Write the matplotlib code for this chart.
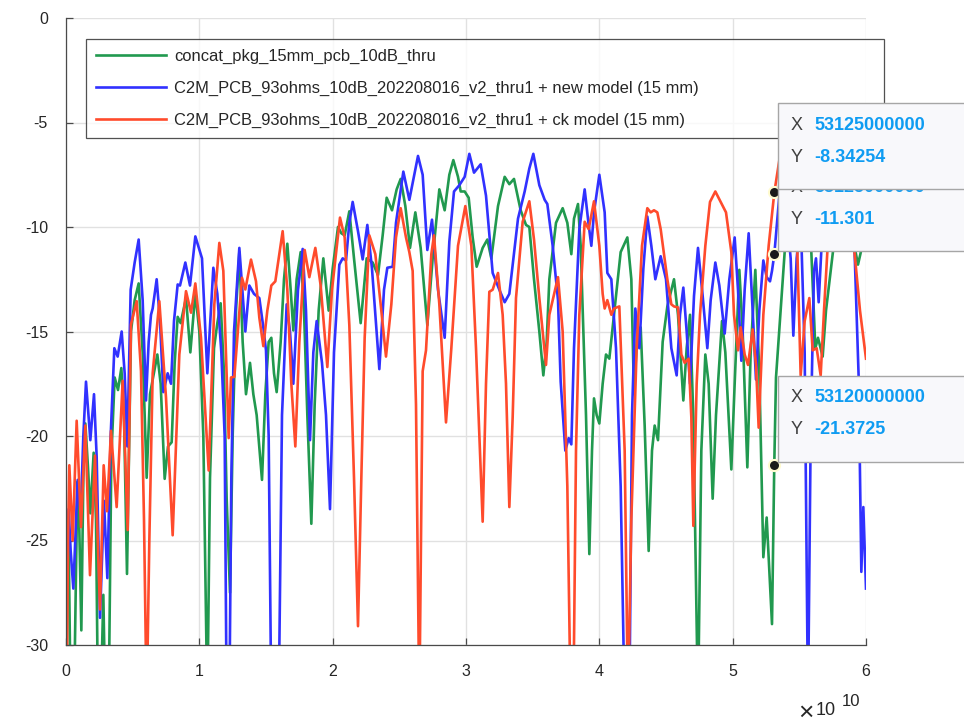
import numpy as np
import matplotlib
matplotlib.use("Agg")
import matplotlib.pyplot as plt
from matplotlib.patches import Rectangle
from matplotlib.ticker import FuncFormatter

plt.rcParams['font.family'] = ['Liberation Sans', 'DejaVu Sans']
plt.rcParams['axes.unicode_minus'] = False

# ---------------- data (frequency in GHz, magnitude in dB) ----------------
green_label = "concat_pkg_15mm_pcb_10dB_thru"
blue_label = "C2M_PCB_93ohms_10dB_202208016_v2_thru1 + new model (15 mm)"
red_label = "C2M_PCB_93ohms_10dB_202208016_v2_thru1 + ck model (15 mm)"

green_f = [0.05, 0.2, 0.35, 0.6, 0.85, 1.0, 1.15, 1.3, 1.45, 1.65, 1.825, 2.075, 2.25, 2.4, 2.6, 2.8, 2.95,
           3.2, 3.4, 3.65, 3.9, 4.15, 4.35, 4.575, 4.875, 5.15, 5.45, 5.75, 6.05, 6.3, 6.85, 7.1, 7.4, 7.65,
           7.925, 8.15, 8.375, 8.6, 9.0, 9.325, 9.7, 10.0, 10.3, 10.6, 10.8, 11.1, 11.35, 11.6, 11.85, 12.05,
           12.3, 12.5, 12.75, 13.0, 13.25, 13.5, 13.8, 14.05, 14.3, 14.7, 14.95, 15.2, 15.4, 15.6, 15.8, 16.1,
           16.35, 16.6, 16.85, 17.05, 17.3, 17.6, 17.85, 18.1, 18.4, 18.65, 18.95, 19.3, 19.7, 20.0, 20.4,
           20.65, 20.9, 21.25, 21.6, 22.1, 22.55, 23.0, 23.4, 23.75, 24.05, 24.45, 24.8, 25.1, 25.45, 25.8,
           26.2, 26.6, 27.1, 27.5, 28.0, 28.4, 28.75, 29.05, 29.4, 29.6, 29.9, 30.2, 30.5, 30.8, 31.25, 31.6,
           31.9, 32.4, 32.9, 33.25, 33.6, 34.1, 34.5, 34.75, 35.1, 35.5, 35.8, 36.05, 36.25, 36.75, 37.25,
           37.6, 37.9, 38.1, 38.4, 38.6, 39.0, 39.25, 39.45, 39.6, 39.8, 40.0, 40.25, 40.5, 40.75, 41.1, 41.6,
           42.1, 42.4, 42.6, 42.85, 43.1, 43.4, 43.7, 43.95, 44.15, 44.4, 44.75, 45.1, 45.6, 45.9, 46.3,
           46.55, 46.8, 47.05, 47.4, 47.65, 47.95, 48.2, 48.5, 48.75, 49.2, 49.45, 49.9, 50.15, 50.5, 50.75,
           51.1, 51.35, 51.7, 52.0, 52.3, 52.55, 52.95, 53.12, 53.25, 53.6, 53.9, 54.3, 54.9, 55.5, 55.9,
           56.2, 56.4, 56.75, 57.0, 57.5, 58.0, 58.7, 59.1, 59.4, 60.0]
green_db = [-26.0, -25.0, -33.0, -33.0, -22.2, -24.5, -29.3, -22.0, -19.4, -21.5, -23.7, -20.8, -24.0, -33.0,
            -33.0, -27.6, -33.0, -33.0, -21.0, -17.2, -17.8, -16.75, -19.0, -26.6, -15.0, -13.5, -12.7, -16.0,
            -22.0, -18.0, -16.1, -17.5, -22.05, -20.5, -20.3, -16.5, -14.3, -14.6, -13.4, -16.0, -13.15, -15.0,
            -20.0, -33.0, -22.0, -15.8, -14.6, -13.65, -17.0, -23.0, -27.5, -20.0, -14.0, -11.2, -15.5, -18.0,
            -16.5, -18.0, -19.0, -22.1, -18.0, -15.5, -15.3, -17.0, -17.9, -15.5, -12.5, -10.8, -13.0, -14.95,
            -12.5, -11.2, -14.0, -19.0, -24.2, -18.5, -14.0, -11.5, -14.0, -12.0, -10.0, -10.3, -10.4, -9.25,
            -11.5, -14.6, -11.5, -11.7, -12.3, -10.4, -8.6, -9.2, -8.2, -7.7, -9.0, -11.0, -9.3, -11.0, -14.7,
            -11.5, -8.2, -9.2, -7.5, -6.8, -7.6, -8.3, -8.3, -8.6, -10.5, -11.9, -11.0, -10.6, -11.5, -9.0,
            -7.6, -7.95, -7.7, -9.2, -9.9, -10.0, -12.5, -15.0, -17.1, -15.5, -12.5, -9.8, -9.1, -9.8, -11.3,
            -9.6, -8.9, -10.9, -19.0, -25.65, -20.7, -18.2, -19.0, -19.4, -17.5, -16.1, -16.3, -14.2, -11.2,
            -10.5, -12.5, -18.0, -15.0, -14.8, -19.5, -25.5, -20.7, -19.5, -20.2, -15.5, -13.8, -12.5, -14.2,
            -18.3, -15.8, -14.2, -19.1, -33.0, -20.7, -16.1, -17.5, -23.0, -19.0, -14.5, -16.0, -21.6, -17.5,
            -12.05, -15.0, -21.5, -16.0, -12.05, -17.0, -25.8, -23.9, -29.0, -21.3725, -17.2, -14.0, -11.2,
            -8.5, -7.5, -9.0, -11.2, -15.8, -15.3, -16.2, -14.0, -11.3, -8.5, -9.0, -10.8, -11.8, -10.1]

blue_f = [0.05, 0.2, 0.35, 0.55, 0.875, 1.1, 1.3, 1.5, 1.825, 2.1, 2.3, 2.55, 2.85, 3.1, 3.35, 3.625, 3.875,
          4.175, 4.4, 4.6, 4.85, 5.15, 5.45, 5.75, 6.0, 6.2, 6.375, 6.5, 6.8, 7.05, 7.3, 7.625, 7.875, 8.1,
          8.375, 8.55, 8.95, 9.3, 9.7, 10.2, 10.6, 11.05, 11.35, 11.65, 11.9, 12.05, 12.25, 12.4, 12.6, 13.0,
          13.45, 13.75, 14.1, 14.5, 14.8, 15.0, 15.2, 15.4, 15.95, 16.2, 16.55, 16.8, 17.05, 17.4, 17.75,
          18.0, 18.3, 18.55, 18.8, 19.2, 19.5, 19.8, 20.1, 20.5, 20.75, 21.0, 21.25, 21.5, 21.9, 22.25, 22.6,
          22.95, 23.5, 23.85, 24.1, 24.5, 24.75, 25.3, 25.75, 26.4, 26.75, 27.1, 27.45, 27.9, 28.4, 28.75,
          29.1, 29.5, 29.9, 30.25, 30.6, 31.1, 31.5, 32.0, 32.5, 32.9, 33.25, 33.9, 34.4, 34.75, 35.05, 35.5,
          35.9, 36.1, 36.5, 36.9, 37.1, 37.45, 37.7, 37.9, 38.1, 38.5, 38.9, 39.2, 39.4, 39.6, 40.0, 40.4,
          40.6, 40.9, 41.25, 41.6, 41.9, 42.25, 42.45, 42.7, 43.0, 43.3, 43.6, 43.9, 44.2, 44.6, 45.0, 45.4,
          45.8, 46.05, 46.3, 46.55, 46.8, 47.1, 47.4, 47.75, 48.1, 48.35, 48.7, 49.0, 49.4, 49.75, 50.15,
          50.4, 50.65, 50.9, 51.2, 51.5, 51.75, 52.0, 52.3, 52.55, 52.8, 52.95, 53.125, 53.5, 54.0, 54.35,
          54.55, 54.8, 55.1, 55.4, 55.65, 55.85, 56.1, 56.25, 56.45, 56.7, 57.3, 58.0, 58.6, 59.15, 59.45,
          59.65, 59.8, 60.0]
blue_db = [-26.0, -23.5, -25.5, -27.3, -22.1, -23.8, -20.0, -17.4, -20.2, -18.0, -21.0, -28.7, -23.1, -26.8,
           -20.0, -15.8, -16.2, -15.0, -17.0, -20.5, -13.0, -11.7, -10.6, -13.5, -18.3, -15.5, -14.2, -13.9,
           -12.5, -14.5, -17.9, -17.0, -17.5, -14.5, -12.75, -12.8, -11.7, -12.8, -10.45, -11.5, -17.0, -11.95,
           -13.2, -16.0, -20.0, -33.0, -33.0, -22.0, -15.0, -11.0, -15.0, -12.8, -13.2, -13.4, -14.8, -15.9,
           -20.0, -33.0, -33.0, -19.0, -13.7, -15.0, -17.5, -13.0, -11.05, -14.0, -20.2, -16.0, -14.5, -16.5,
           -19.0, -23.5, -16.0, -11.8, -11.5, -11.6, -9.8, -8.8, -10.2, -11.55, -9.9, -12.0, -16.8, -13.0,
           -11.95, -11.9, -9.8, -7.35, -8.7, -6.6, -7.5, -11.1, -9.65, -13.0, -15.3, -10.7, -8.3, -8.0, -7.6,
           -6.5, -7.4, -7.0, -8.5, -12.2, -13.0, -13.6, -13.2, -9.6, -8.3, -7.2, -6.5, -8.0, -8.7, -8.9,
           -10.9, -13.5, -17.4, -20.7, -20.1, -20.4, -15.8, -10.1, -8.2, -9.9, -10.9, -9.3, -7.5, -9.3, -12.2,
           -12.5, -15.8, -22.4, -33.0, -33.0, -19.0, -13.9, -15.8, -12.0, -9.5, -10.9, -12.5, -11.4, -12.5,
           -15.8, -17.1, -14.2, -12.9, -15.0, -17.5, -13.3, -11.0, -13.3, -15.8, -13.5, -11.7, -12.8, -15.1,
           -12.5, -10.5, -13.0, -16.4, -13.0, -10.3, -14.0, -17.3, -14.0, -11.6, -12.4, -12.6, -12.1, -11.301,
           -8.5, -9.0, -11.5, -15.2, -11.5, -9.5, -16.0, -33.0, -20.0, -12.1, -11.5, -13.6, -10.5, -8.0, -9.5,
           -8.0, -11.3, -17.2, -26.5, -23.4, -27.3]

red_f = [0.05, 0.15, 0.25, 0.5, 0.8, 1.125, 1.45, 1.8, 2.175, 2.55, 2.825, 3.075, 3.375, 3.8, 4.25, 4.625,
         4.875, 5.3, 5.625, 5.85, 6.05, 6.25, 6.5, 7.0, 7.5, 8.0, 8.5, 9.0, 9.375, 9.7, 10.125, 10.7, 11.125,
         11.5, 11.8, 12.2, 12.375, 12.625, 13.2, 13.45, 13.875, 14.25, 14.5, 14.8, 15.1, 15.4, 15.7, 16.25,
         16.6, 16.9, 17.2, 17.5, 17.9, 18.25, 18.7, 19.1, 19.6, 19.95, 20.55, 20.9, 21.25, 21.6, 21.9, 22.15,
         22.4, 22.75, 23.2, 23.6, 24.0, 24.4, 24.75, 25.1, 25.5, 25.75, 26.0, 26.25, 26.5, 26.75, 27.0, 27.4,
         27.6, 28.0, 28.5, 28.9, 29.4, 29.95, 30.4, 30.75, 31.0, 31.25, 31.5, 31.75, 32.0, 32.4, 32.75, 33.0,
         33.25, 33.5, 33.75, 34.25, 34.75, 35.1, 35.5, 35.75, 36.0, 36.25, 36.9, 37.25, 37.6, 37.85, 38.05,
         38.25, 38.5, 38.9, 39.2, 39.6, 40.0, 40.25, 40.4, 40.6, 40.9, 41.1, 41.5, 41.9, 42.15, 42.4, 42.8,
         43.2, 43.6, 43.85, 44.1, 44.35, 44.6, 45.1, 45.4, 45.6, 45.9, 46.15, 46.4, 46.7, 46.9, 47.05, 47.3,
         47.55, 47.95, 48.3, 48.7, 49.1, 49.5, 49.9, 50.1, 50.4, 50.6, 50.9, 51.15, 51.5, 51.75, 51.95, 52.3,
         52.7, 53.125, 53.5, 54.0, 54.5, 54.85, 55.1, 55.4, 55.75, 56.0, 56.3, 56.6, 56.85, 57.1, 57.6, 58.2,
         58.8, 59.15, 59.55, 60.0]
red_db = [-33.0, -25.0, -21.4, -25.0, -19.27, -24.36, -19.5, -26.66, -20.94, -28.3, -21.4, -23.6, -19.75,
          -23.4, -17.36, -24.5, -14.66, -13.55, -16.9, -24.0, -33.0, -25.0, -17.0, -13.55, -18.16, -24.75,
          -16.1, -13.07, -14.1, -12.7, -15.3, -21.65, -13.7, -10.76, -12.1, -20.1, -17.2, -17.17, -12.43,
          -12.99, -11.56, -12.6, -14.34, -15.7, -14.0, -12.8, -12.6, -10.2, -13.0, -17.5, -20.5, -15.5, -11.1,
          -12.4, -11.0, -12.8, -16.7, -13.0, -9.55, -10.5, -14.7, -22.0, -29.1, -22.0, -15.3, -10.4, -11.3,
          -13.7, -16.2, -13.7, -10.5, -9.1, -10.5, -11.2, -12.1, -18.5, -33.0, -16.9, -15.9, -11.3, -10.4,
          -13.7, -19.35, -15.8, -10.9, -9.0, -10.9, -15.8, -19.9, -24.1, -17.5, -13.1, -13.0, -12.2, -14.2,
          -17.5, -23.4, -19.1, -13.4, -9.75, -8.77, -10.6, -13.4, -15.0, -16.6, -14.2, -12.4, -15.0, -22.4,
          -33.0, -33.0, -20.7, -14.2, -9.75, -10.1, -8.77, -10.9, -13.2, -13.9, -13.5, -14.2, -13.9, -13.8,
          -20.7, -33.0, -24.0, -15.8, -10.9, -9.1, -9.3, -9.2, -9.3, -10.1, -12.5, -13.7, -13.8, -13.85,
          -16.1, -16.5, -16.3, -19.1, -24.3, -17.5, -14.2, -10.9, -8.8, -8.3, -8.8, -9.3, -11.2, -14.2, -15.9,
          -14.8, -16.1, -16.6, -14.9, -16.6, -19.6, -14.2, -10.9, -8.34254, -6.8, -6.5, -8.0, -11.1, -17.1,
          -14.5, -13.4, -15.9, -15.8, -17.1, -14.0, -11.2, -8.5, -7.5, -9.0, -11.3, -14.0, -16.3]

# data tips: (x in Hz, y in dB), in stacking order bottom->top
tip_x = [53120000000, 53125000000, 53125000000]
tip_y = [-21.3725, -11.301, -8.34254]

x_ticks = [0, 1, 2, 3, 4, 5, 6]          # x10^10 Hz
y_ticks = [0, -5, -10, -15, -20, -25, -30]

green_c = '#21994f'
blue_c = '#3131ff'
red_c = '#ff4b2c'

# ---------------- figure ----------------
W, H = 964, 725
fig = plt.figure(figsize=(W / 100, H / 100), dpi=100)
ax = fig.add_axes([66 / W, 1 - 645 / H, 800 / W, 627 / H])

lw = 1.9
ax.plot(np.array(green_f) * 1e9, green_db, color=green_c, lw=lw, label=green_label)
ax.plot(np.array(blue_f) * 1e9, blue_db, color=blue_c, lw=lw, label=blue_label)
ax.plot(np.array(red_f) * 1e9, red_db, color=red_c, lw=lw, label=red_label)

ax.set_xlim(0, 6e10)
ax.set_ylim(-30, 0)
ax.set_xticks([t * 1e10 for t in x_ticks])
ax.xaxis.set_major_formatter(FuncFormatter(lambda v, p: f"{v / 1e10:g}"))
ax.set_yticks(y_ticks)
ax.yaxis.set_major_formatter(FuncFormatter(lambda v, p: f"{v:g}"))

ax.grid(True, color='#e1e1e1', lw=1.0)
ax.set_axisbelow(True)
for s in ['top', 'right']:
    ax.spines[s].set_visible(False)
for s in ['left', 'bottom']:
    ax.spines[s].set_color('#4a4a4a')
    ax.spines[s].set_linewidth(0.9)
ax.tick_params(direction='in', length=5, width=0.9, color='#4a4a4a',
               labelcolor='#262626', labelsize=11.5)
ax.tick_params(axis='x', pad=14)
ax.tick_params(axis='y', pad=13)

# exponent label of the x axis
fig.text(798 / W, 1 - 720 / H, '\u00d7', fontsize=19, color='#262626',
         ha='left', va='baseline')
fig.text(816 / W, 1 - 715 / H, '10', fontsize=13, color='#262626',
         ha='left', va='baseline')
fig.text(842 / W, 1 - 706 / H, '10', fontsize=12, color='#262626',
         ha='left', va='baseline')

leg_top = (645 - 39) / 627
leg_h = 98 / 627
leg = ax.legend(loc='upper left', bbox_to_anchor=(20 / 800, leg_top - leg_h, 798 / 800, leg_h),
                mode='expand', frameon=True, fancybox=False, fontsize=11.9,
                handlelength=4.2, handletextpad=0.5, labelspacing=1.0,
                borderpad=0.62, borderaxespad=0)
leg.get_frame().set_edgecolor('#262626')
leg.get_frame().set_linewidth(0.9)
for t in leg.get_texts():
    t.set_color('#262626')

# ---------------- data tips ----------------
fig.canvas.draw()
tip_color = '#0f9cf2'
for i, (tx, ty) in enumerate(zip(tip_x, tip_y)):
    xd, yd = ax.transData.transform((tx, ty))
    z = 10 + i * 2
    bx, by = xd + 4, yd + 3
    bh = 86
    rect = Rectangle((bx, by), 260, bh, transform=None, facecolor='#f8f8fb',
                     edgecolor='#a6a6a6', lw=1.0, zorder=z, clip_on=False)
    fig.add_artist(rect)
    rows = [("X", f"{tx:.0f}"), ("Y", f"{ty:g}")]
    for j, (lab, val) in enumerate(rows):
        yy = by + bh - 22 - j * 32
        fig.text(bx + 12, yy, lab, transform=None, fontsize=13, color='#404040',
                 va='center', ha='left', zorder=z + 1)
        fig.text(bx + 36, yy, val, transform=None, fontsize=13, color=tip_color,
                 fontweight='bold', va='center', ha='left', zorder=z + 1)

for tx, ty in zip(tip_x, tip_y):
    ax.plot([tx], [ty], 'o', color='#1a1a1a', ms=8, mec='#fffbd0', mew=1.5,
            zorder=30, clip_on=False)

fig.savefig('out.png', dpi=100)
